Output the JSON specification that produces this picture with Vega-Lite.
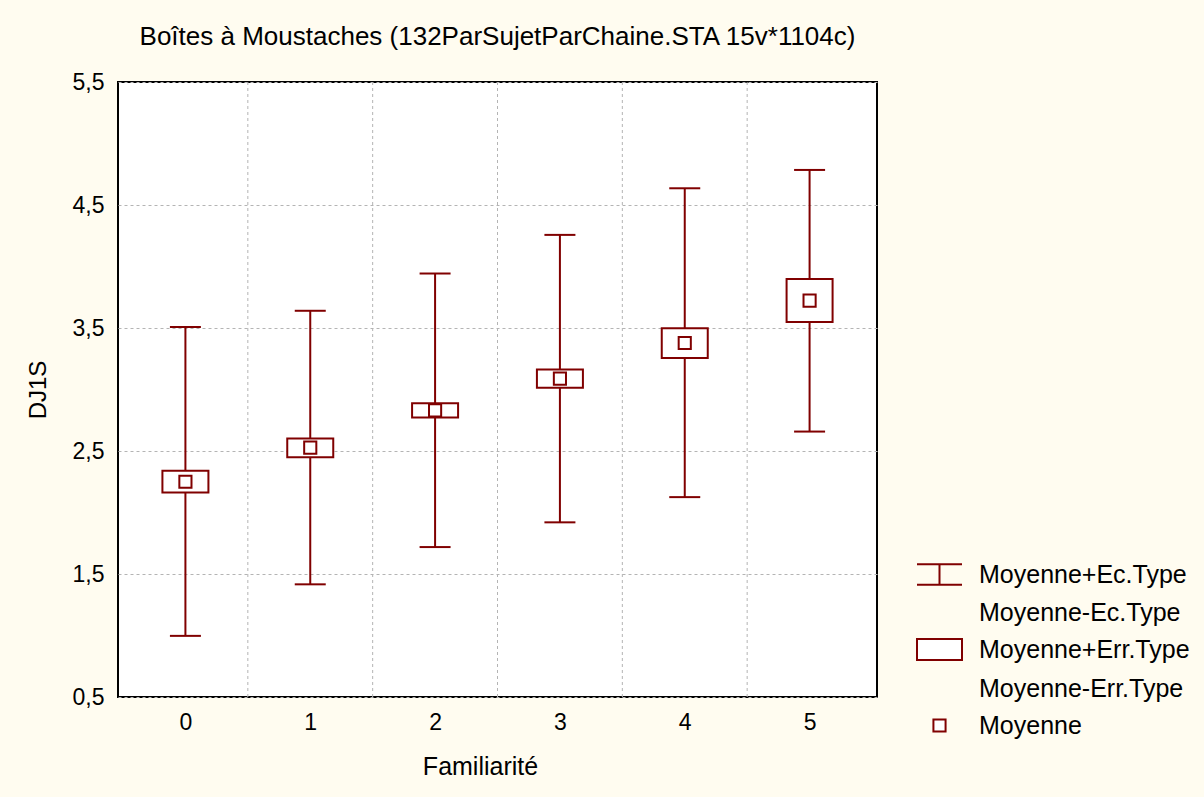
{
  "$schema": "https://vega.github.io/schema/vega-lite/v6.json",
  "autosize": {"type": "none"},
  "padding": {"left": 118, "top": 82, "right": 327, "bottom": 100},
  "width": 759,
  "height": 615,
  "background": "#fffcf0",
  "title": {
    "text": "Boîtes à Moustaches (132ParSujetParChaine.STA 15v*1104c)",
    "font": "Liberation Sans",
    "fontSize": 26,
    "fontWeight": "normal",
    "color": "black",
    "anchor": "middle",
    "frame": "group",
    "baseline": "alphabetic",
    "offset": 0
  },
  "datasets": {
    "stats": [
      {"Familiarite": 0, "moy": 2.25, "ecHi": 3.508, "ecLo": 0.997, "errHi": 2.339, "errLo": 2.163, "stat": "moy"},
      {"Familiarite": 1, "moy": 2.527, "ecHi": 3.64, "ecLo": 1.416, "errHi": 2.601, "errLo": 2.45, "stat": "moy"},
      {"Familiarite": 2, "moy": 2.83, "ecHi": 3.943, "ecLo": 1.719, "errHi": 2.888, "errLo": 2.772, "stat": "moy"},
      {"Familiarite": 3, "moy": 3.088, "ecHi": 4.257, "ecLo": 1.92, "errHi": 3.162, "errLo": 3.015, "stat": "moy"},
      {"Familiarite": 4, "moy": 3.378, "ecHi": 4.636, "ecLo": 2.125, "errHi": 3.497, "errLo": 3.256, "stat": "moy"},
      {"Familiarite": 5, "moy": 3.722, "ecHi": 4.785, "ecLo": 2.658, "errHi": 3.898, "errLo": 3.549, "stat": "moy"}
    ],
    "gridx": [
      {"Familiarite": 0.5}, {"Familiarite": 1.5}, {"Familiarite": 2.5}, {"Familiarite": 3.5}, {"Familiarite": 4.5}
    ]
  },
  "encoding": {
    "x": {
      "field": "Familiarite",
      "type": "quantitative",
      "title": "Familiarité",
      "scale": {"domain": [-0.5, 5.5], "nice": false, "zero": false},
      "axis": {
        "values": [0, 1, 2, 3, 4, 5],
        "format": "d",
        "grid": false,
        "domain": false,
        "ticks": false,
        "labelPadding": 14,
        "titlePadding": 20,
        "titleFontSize": 25,
        "titleX": 362
      }
    }
  },
  "layer": [
    {
      "data": {"name": "gridx"},
      "mark": {"type": "rule", "color": "#b4b4b4", "strokeWidth": 1, "strokeDash": [3, 3]}
    },
    {
      "data": {"name": "stats"},
      "mark": {"type": "rule", "color": "#800000", "strokeWidth": 2},
      "encoding": {
        "y": {
          "field": "ecLo",
          "type": "quantitative",
          "title": "DJ1S",
          "scale": {"domain": [0.5, 5.5], "nice": false, "zero": false},
          "axis": {
            "values": [0.5, 1.5, 2.5, 3.5, 4.5, 5.5],
            "labelExpr": "replace(format(datum.value, '.1f'), '.', ',')",
            "grid": true,
            "gridDash": [3, 3],
            "gridColor": "#b4b4b4",
            "gridWidth": 1,
            "domain": false,
            "ticks": false,
            "labelPadding": 14,
            "titlePadding": 22,
            "titleFontSize": 24
          }
        },
        "y2": {"field": "ecHi"}
      }
    },
    {
      "data": {"name": "stats"},
      "mark": {"type": "tick", "orient": "horizontal", "color": "#800000", "size": 31, "thickness": 2, "opacity": 1},
      "encoding": {"y": {"field": "ecHi", "type": "quantitative"}}
    },
    {
      "data": {"name": "stats"},
      "mark": {"type": "tick", "orient": "horizontal", "color": "#800000", "size": 31, "thickness": 2, "opacity": 1},
      "encoding": {"y": {"field": "ecLo", "type": "quantitative"}}
    },
    {
      "data": {"name": "stats"},
      "mark": {"type": "bar", "width": 46, "fill": "white", "stroke": "#800000", "strokeWidth": 2},
      "encoding": {
        "y": {"field": "errLo", "type": "quantitative"},
        "y2": {"field": "errHi"}
      }
    },
    {
      "data": {"name": "stats"},
      "mark": {"type": "point", "filled": false, "color": "#800000", "fill": "white", "fillOpacity": 1, "strokeWidth": 2, "size": 2025, "opacity": 1},
      "encoding": {
        "y": {"field": "moy", "type": "quantitative"},
        "shape": {
          "field": "stat",
          "type": "nominal",
          "scale": {
            "domain": ["ec", "ec2", "err", "err2", "moy"],
            "range": [
              "M-1,-0.46H1M0,-0.46V0.46M-1,0.46H1",
              "M0,0",
              "M-1,-0.47H1V0.47H-1Z",
              "M0,0",
              "M-0.27,-0.27H0.27V0.27H-0.27Z"
            ]
          },
          "legend": {
            "title": null,
            "orient": "none",
            "legendX": 798,
            "legendY": 469,
            "padding": 0,
            "symbolSize": 2025,
            "symbolStrokeWidth": 2,
            "labelFont": "Liberation Sans",
            "labelFontSize": 25,
            "labelColor": "black",
            "labelLimit": 400,
            "labelOffset": 16,
            "rowPadding": -8,
            "labelExpr": "datum.value == 'ec' ? 'Moyenne+Ec.Type' : datum.value == 'ec2' ? 'Moyenne-Ec.Type' : datum.value == 'err' ? 'Moyenne+Err.Type' : datum.value == 'err2' ? 'Moyenne-Err.Type' : 'Moyenne'"
          }
        }
      }
    }
  ],
  "config": {
    "view": {"fill": "white", "stroke": "black", "strokeWidth": 2},
    "axis": {
      "labelFont": "Liberation Sans",
      "labelFontSize": 23,
      "labelColor": "black",
      "titleFont": "Liberation Sans",
      "titleFontSize": 23,
      "titleFontWeight": "normal",
      "titleColor": "black"
    }
  }
}
